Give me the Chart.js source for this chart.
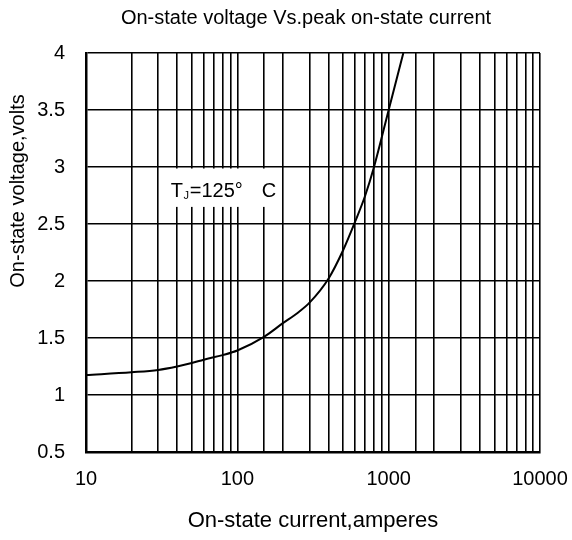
<!DOCTYPE html>
<html><head><meta charset="utf-8">
<script src="https://cdn.jsdelivr.net/npm/chart.js@4.4.1/dist/chart.umd.min.js"></script>
<style>html,body{margin:0;padding:0;background:#fff}canvas{display:block}</style>
</head><body>
<canvas id="c" width="572" height="540"></canvas>
<script>
// ---- data ----
const currentA = [10, 20, 30, 40, 50, 60, 80, 100, 150, 200, 250, 300, 400, 500, 600, 700, 800, 1000, 1250];
const voltageV = [1.175, 1.20, 1.22, 1.25, 1.28, 1.31, 1.35, 1.39, 1.51, 1.63, 1.72, 1.81, 2.02, 2.27, 2.52, 2.75, 3.0, 3.5, 4.0];
const xTickLabels = [10, 100, 1000, 10000];
const yTickLabels = [0.5, 1, 1.5, 2, 2.5, 3, 3.5, 4];
const chartTitle = 'On-state voltage Vs.peak on-state current';
const xTitle = 'On-state current,amperes';
const yTitle = 'On-state voltage,volts';
const noteMain = 'T';
const noteSub = 'J';
const noteRest = '=125°';
const noteUnit = 'C';
const noteBoxX = [30, 200];
const noteBoxY = [2.65, 3];

const FONT = "'Liberation Sans', Arial, sans-serif";

const decorPlugin = {
  id: 'decor',
  beforeDatasetsDraw(chart) {
    const {ctx, scales: {x, y}} = chart;
    const l = x.getPixelForValue(noteBoxX[0]) + 1.5;
    const r = x.getPixelForValue(noteBoxX[1]) - 1.5;
    const t = y.getPixelForValue(noteBoxY[1]) + 1.5;
    const b = y.getPixelForValue(noteBoxY[0]);
    ctx.save();
    ctx.fillStyle = '#fff';
    ctx.fillRect(l, t, r - l, b - t);
    ctx.fillStyle = '#000';
    ctx.textBaseline = 'alphabetic';
    ctx.textAlign = 'left';
    const base = t + 28;
    ctx.font = '20px ' + FONT;
    ctx.fillText(noteMain, l + 11, base);
    const tw = ctx.measureText(noteMain).width;
    ctx.font = '11px ' + FONT;
    ctx.fillText(noteSub, l + 11 + tw + 0.5, base + 2);
    ctx.font = '20px ' + FONT;
    ctx.fillText(noteRest, l + 30, base);
    ctx.fillText(noteUnit, l + 102, base);
    ctx.restore();
  },
  afterDraw(chart) {
    const {ctx, chartArea} = chart;
    ctx.save();
    ctx.fillStyle = '#000';
    ctx.font = '20px ' + FONT;
    ctx.textAlign = 'center';
    ctx.textBaseline = 'middle';
    ctx.fillText(chartTitle, (chartArea.left + chartArea.right) / 2 - 7, 18);
    ctx.translate(18, 191);
    ctx.rotate(-Math.PI / 2);
    ctx.fillText(yTitle, 0, 0);
    ctx.restore();
  }
};

new Chart(document.getElementById('c'), {
  type: 'line',
  data: {
    datasets: [{
      data: currentA.map((v, i) => ({x: v, y: voltageV[i]})),
      borderColor: '#000',
      borderWidth: 2,
      pointRadius: 0,
      fill: false,
      cubicInterpolationMode: 'monotone'
    }]
  },
  options: {
    responsive: false,
    animation: false,
    devicePixelRatio: 1,
    layout: {padding: {top: 53, right: 32, left: 0, bottom: 0}},
    plugins: {legend: {display: false}, tooltip: {enabled: false}, title: {display: false}},
    scales: {
      x: {
        type: 'logarithmic',
        min: 10, max: 10000,
        grid: {color: '#000', lineWidth: 1.6, drawTicks: false},
        border: {color: '#000', width: 2.5},
        ticks: {
          autoSkip: false, maxRotation: 0, minRotation: 0, padding: 15,
          color: '#000', font: {family: FONT, size: 20},
          callback: (v) => xTickLabels.includes(v) ? String(v) : ''
        },
        title: {display: true, text: xTitle, color: '#000', font: {family: FONT, size: 22}, padding: {top: 4, bottom: 6}},
        afterFit(s) { s.height = 88; s.paddingLeft = 0; s.paddingRight = 0; }
      },
      y: {
        type: 'linear',
        min: 0.5, max: 4,
        afterBuildTicks(s) { s.ticks = yTickLabels.map(v => ({value: v})); },
        grid: {color: '#000', lineWidth: 1.6, drawTicks: false},
        border: {color: '#000', width: 2.5},
        ticks: {padding: 21, color: '#000', font: {family: FONT, size: 20}, callback: (v) => String(v)},
        afterFit(s) { s.width = 86; s.paddingTop = 0; s.paddingBottom = 0; }
      }
    }
  },
  plugins: [decorPlugin]
});
</script>
</body></html>
